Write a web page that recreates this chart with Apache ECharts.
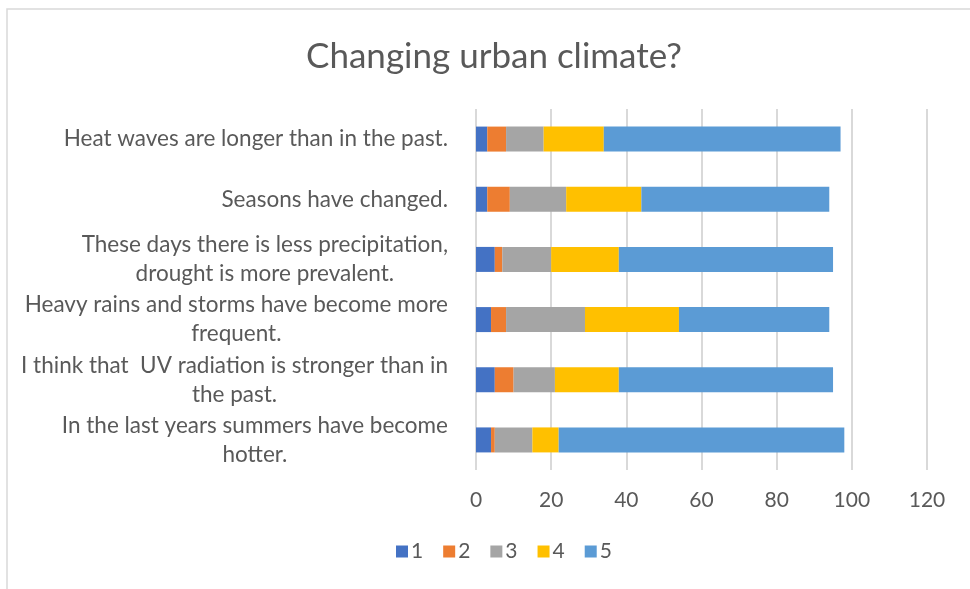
<!DOCTYPE html>
<html>
<head>
<meta charset="utf-8">
<script src="https://cdn.jsdelivr.net/npm/echarts@6/dist/echarts.min.js"></script>
<style>
  html, body { margin: 0; padding: 0; background: #fff; }
  #chart { width: 970px; height: 589px; }
</style>
</head>
<body>
<div id="chart"></div>
<script>
// statements, top to bottom
const statements = [
  'Heat waves are longer than in the past.',
  'Seasons have changed.',
  'These days there is less precipitation,\ndrought is more prevalent.',
  'Heavy rains and storms have become more\nfrequent.',
  'I think that  UV radiation is stronger than in\nthe past.',
  'In the last years summers have become\nhotter.'
];
const seriesNames = ['1', '2', '3', '4', '5'];
const s1 = [3, 3, 5, 4, 5, 4];
const s2 = [5, 6, 2, 4, 5, 1];
const s3 = [10, 15, 13, 21, 11, 10];
const s4 = [16, 20, 18, 25, 17, 7];
const s5 = [63, 50, 57, 40, 57, 76];
const xTicks = [0, 20, 40, 60, 80, 100, 120];

const colors = ['#4472C4', '#ED7D31', '#A5A5A5', '#FFC000', '#5B9BD5'];
const txt = '#595959';
const font = 'Lato';

const chart = echarts.init(document.getElementById('chart'));

const option = {
  animation: false,
  color: colors,
  textStyle: { fontFamily: font },
  graphic: [{
    type: 'rect',
    shape: { x: 7, y: 9, width: 1000, height: 700 },
    style: { fill: 'none', stroke: '#d9d9d9', lineWidth: 1.5 },
    silent: true
  }],
  title: {
    text: 'Changing urban climate?',
    left: 489,
    textAlign: 'center',
    top: 34,
    textStyle: { fontSize: 35, fontWeight: 'normal', color: txt, fontFamily: font }
  },
  legend: {
    data: seriesNames,
    left: 391,
    top: 536,
    itemWidth: 12,
    itemHeight: 12,
    itemGap: 20,
    icon: 'rect',
    textStyle: { fontSize: 21, color: txt, padding: [0, 0, 0, -2] }
  },
  grid: { left: 476, right: 43, top: 109, bottom: 119, containLabel: false },
  xAxis: {
    type: 'value',
    min: xTicks[0],
    max: xTicks[xTicks.length - 1],
    interval: 20,
    axisLine: { show: false },
    axisTick: { show: false },
    axisLabel: { fontSize: 21, color: txt, margin: 20 },
    splitLine: { lineStyle: { color: '#d9d9d9', width: 2 } }
  },
  yAxis: {
    type: 'category',
    data: statements,
    inverse: true,
    axisLine: { show: false },
    axisTick: { show: false },
    axisLabel: {
      margin: 28,
      formatter: v => v.split('\n').map(l => '{c|' + l + '}').join('\n'),
      rich: {
        c: { align: 'center', fontSize: 22.5, lineHeight: 29, color: txt, fontFamily: font }
      }
    }
  },
  series: [s1, s2, s3, s4, s5].map((d, i) => ({
    name: seriesNames[i],
    type: 'bar',
    stack: 'total',
    barWidth: 25,
    data: d
  }))
};

chart.setOption(option);
</script>
</body>
</html>
